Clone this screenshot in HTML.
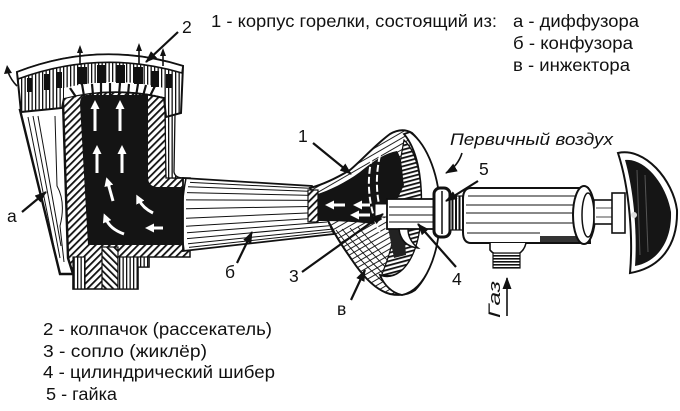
<!DOCTYPE html>
<html><head><meta charset="utf-8"><style>
html,body{margin:0;padding:0;background:#fff;}
svg{display:block;}
text{font-family:"Liberation Sans","DejaVu Sans",sans-serif;fill:#111;}
</style></head><body>
<svg xmlns="http://www.w3.org/2000/svg" width="680" height="411" viewBox="0 0 680 411">
<defs>
<pattern id="h1" width="5" height="5" patternUnits="userSpaceOnUse" patternTransform="rotate(45)"><rect width="5" height="5" fill="#fff"/><rect width="1.8" height="5" fill="#111"/></pattern>
<pattern id="h2" width="5" height="5" patternUnits="userSpaceOnUse" patternTransform="rotate(-45)"><rect width="5" height="5" fill="#fff"/><rect width="1.8" height="5" fill="#111"/></pattern>
<pattern id="vl" width="3.5" height="4" patternUnits="userSpaceOnUse"><rect width="3.5" height="4" fill="#fff"/><rect width="1.3" height="4" fill="#111"/></pattern>
<pattern id="hl" width="4" height="3.5" patternUnits="userSpaceOnUse"><rect width="4" height="3.5" fill="#fff"/><rect width="4" height="1" fill="#111"/></pattern>
<pattern id="dk" width="4" height="4" patternUnits="userSpaceOnUse" patternTransform="rotate(75)"><rect width="4" height="4" fill="#fff"/><rect width="1.8" height="4" fill="#111"/></pattern>
<pattern id="lt" width="5" height="5" patternUnits="userSpaceOnUse" patternTransform="rotate(60)"><rect width="5" height="5" fill="#fff"/><rect width="1" height="5" fill="#222"/></pattern>
<pattern id="th" width="4" height="3" patternUnits="userSpaceOnUse"><rect width="4" height="3" fill="#fff"/><rect width="4" height="1.6" fill="#111"/></pattern>
<pattern id="tv" width="3.5" height="4" patternUnits="userSpaceOnUse"><rect width="3.5" height="4" fill="#fff"/><rect width="2" height="4" fill="#111"/></pattern>
<marker id="ah" markerUnits="userSpaceOnUse" markerWidth="12" markerHeight="9" refX="11" refY="4.5" orient="auto" viewBox="0 0 12 9"><path d="M0,0 L12,4.5 L0,9 Z" fill="#111"/></marker>
<marker id="wa" markerUnits="userSpaceOnUse" markerWidth="9" markerHeight="9" refX="3" refY="4.5" orient="auto" viewBox="0 0 9 9"><path d="M0,0 L9,4.5 L0,9 Z" fill="#fff"/></marker>
</defs>

<!-- texts top -->
<text x="211" y="27" font-size="17.5" textLength="286" lengthAdjust="spacingAndGlyphs">1 - корпус горелки, состоящий из:</text>
<text x="513" y="27" font-size="17.5" textLength="126" lengthAdjust="spacingAndGlyphs">а - диффузора</text>
<text x="513" y="49" font-size="17.5" textLength="120" lengthAdjust="spacingAndGlyphs">б - конфузора</text>
<text x="513" y="71" font-size="17.5" textLength="117" lengthAdjust="spacingAndGlyphs">в - инжектора</text>

<!-- bottom texts -->
<text x="43" y="335" font-size="17.5" textLength="229" lengthAdjust="spacingAndGlyphs">2 - колпачок (рассекатель)</text>
<text x="43" y="357" font-size="17.5" textLength="164" lengthAdjust="spacingAndGlyphs">3 - сопло (жиклёр)</text>
<text x="43" y="378" font-size="17.5" textLength="232" lengthAdjust="spacingAndGlyphs">4 - цилиндрический шибер</text>
<text x="46" y="400" font-size="17.5" textLength="71" lengthAdjust="spacingAndGlyphs">5 - гайка</text>

<!-- BURNER: walls -->
<path d="M60,86 L166,86 L166,172 Q166,178 174,178 L190,178 L190,257 L149,257 L149,267 L138,267 L138,289 L73,289 L73,272 L66,256 Z" fill="url(#h1)" stroke="#111" stroke-width="1.5"/>
<rect x="73" y="257" width="12" height="32" fill="url(#vl)" stroke="#111" stroke-width="1.2"/>
<rect x="102" y="247" width="16" height="42" fill="url(#h2)" stroke="#111" stroke-width="1.2"/>
<rect x="118" y="257" width="20" height="32" fill="url(#vl)" stroke="#111" stroke-width="1.2"/>
<rect x="138" y="257" width="11" height="10" fill="url(#vl)" stroke="#111" stroke-width="1.2"/>
<!-- right neck strip -->
<path d="M165,112 L175,114 L174,172 Q175,178 184,178 L166,178 Z" fill="url(#vl)" stroke="#111" stroke-width="1.3"/>
<!-- black interior -->
<path d="M86,95 Q80,96 80,104 L88,245 L186,245 L186,187 L158,187 Q148,187 148,177 L148,95 Z" fill="#141414"/>
<!-- diffuser white body -->
<path d="M20,110 L63,102 L68,258 L73,274 L60,274 Z" fill="#fff" stroke="#111" stroke-width="2.4"/>
<path d="M28,117 L57,262 M33,116 L60,258 M38,116 L61,246 M55,116 L57,186 Q66,202 60,226 L64,262" fill="none" stroke="#111" stroke-width="1"/>
<!-- head -->
<path d="M17,72 Q100,40 183,66 L181,113 L166,117 L164,98 Q114,86 64,98 L62,108 L21,112 Z" fill="url(#vl)" stroke="#111" stroke-width="2"/>
<path d="M17,72 Q100,40 183,66 L182,73 Q100,49 18,79 Z" fill="#fff" stroke="#111" stroke-width="1.6"/>
<path d="M64,88 Q114,76 164,88 L164,97 Q114,85 64,98 Z" fill="#fff"/>
<g fill="#111">
<rect x="78" y="67" width="9" height="17"/>
<rect x="97" y="65" width="9" height="18"/>
<rect x="116" y="65" width="9" height="18"/>
<rect x="134" y="67" width="9" height="17"/>
<rect x="151" y="71" width="8" height="16"/>
<rect x="44" y="74" width="6" height="16"/>
<rect x="56" y="72" width="6" height="16"/>
<rect x="166" y="74" width="6" height="14"/>
<rect x="27" y="78" width="5" height="14"/>
</g>
<path d="M82,84 L84,96 M101,83 L101,95 M120,83 L119,95 M138,84 L136,96 M155,86 L150,96 M70,88 L76,97 M92,84 L93,95 M110,83 L110,95 M129,84 L128,95 M146,85 L143,96" stroke="#111" stroke-width="2.2"/>
<!-- flame arrows above head -->
<path d="M80,65 L80,52 M139,64 L139,50 M163,66 L163,55" stroke="#111" stroke-width="1.6" fill="none"/>
<path d="M77,53 L80,45 L83,53 Z M136,51 L139,43 L142,51 Z M160,56 L163,48 L166,56 Z" fill="#111"/>
<path d="M17,86 Q11,80 8,72" stroke="#111" stroke-width="1.6" fill="none"/>
<path d="M4,74 L7,65 L12,73 Z" fill="#111"/>
<!-- white arrows burner -->
<g stroke="#fff" stroke-width="3" fill="none" marker-end="url(#wa)">
<line x1="95" y1="131" x2="95" y2="106"/>
<line x1="120" y1="131" x2="120" y2="106"/>
<line x1="97" y1="173" x2="97" y2="151"/>
<line x1="122" y1="173" x2="122" y2="151"/>
<line x1="113" y1="201" x2="108" y2="183"/>
<path d="M153,213 Q143,208 139,200"/>
<path d="M124,234 Q110,229 106,219"/>
<line x1="163" y1="228" x2="151" y2="228"/>
</g>

<!-- PIPE б -->
<path d="M183,178 L312,186 L334,234 L183,251 Z" fill="#fff" stroke="#111" stroke-width="1.8"/>
<path d="M186,178 Q179,214 184,251" fill="none" stroke="#111" stroke-width="1.5"/>
<g stroke="#111" stroke-width="1" fill="none">
<line x1="190" y1="182.4" x2="322" y2="188.9"/>
<line x1="188" y1="186.8" x2="322" y2="191.8"/>
<line x1="187" y1="192.6" x2="322" y2="195.6"/>
<line x1="186" y1="199.9" x2="322" y2="200.4"/>
<line x1="186" y1="208.7" x2="322" y2="206.2"/>
<line x1="186" y1="218.2" x2="322" y2="212.4"/>
<line x1="186" y1="226.2" x2="325" y2="217.7"/>
<line x1="187" y1="232.8" x2="327" y2="222"/>
<line x1="187" y1="238.6" x2="329" y2="225.8"/>
<line x1="188" y1="243.7" x2="331" y2="229.2"/>
<line x1="189" y1="247.4" x2="332" y2="231.6"/>
</g>

<!-- CONE -->
<path d="M310,188 C325,184 340,176 350,170 C360,162 375,145 390,134 Q402,127 412,133 C425,145 438,175 439,205 C440,245 430,275 415,290 Q405,297 390,294 C375,290 362,275 352,260 C345,250 338,240 333,230 Z" fill="url(#lt)" stroke="#111" stroke-width="2"/>
<g stroke="#111" stroke-width="0.9" fill="none">
<path d="M336,230 Q360,262 392,290"/>
<path d="M342,229 Q366,258 396,286"/>
<path d="M350,228 Q372,254 398,280"/>
<path d="M358,227 Q378,250 398,272"/>
</g>
<!-- ring -->
<path d="M410,132 C428,145 440,178 440,212 C440,255 425,290 402,295 C392,293 384,285 380,275 C398,282 418,262 421,215 C423,175 416,148 404,134 Z" fill="#fff" stroke="#111" stroke-width="1.8"/>
<path d="M404,140 C417,152 423,180 421,215 C419,258 400,282 382,274 C392,250 396,230 396,210 C397,180 400,160 404,140 Z" fill="url(#dk)" stroke="#111" stroke-width="1.2"/>
<!-- cone black interior -->
<path d="M315,195 C330,190 345,183 360,172 C370,164 382,154 397,151 C403,160 402,175 404,185 L398,198 L388,200 L388,213 L380,220 L372,224 C360,222 340,221 316,221 Z" fill="#141414"/>
<path d="M388,228 L404,229 L406,255 L394,258 Z" fill="#222"/>
<rect x="308" y="190" width="10" height="32" fill="url(#h1)" stroke="#111" stroke-width="1.2"/>
<path d="M372,157 Q363,195 380,233 M380,155 Q371,195 388,232" fill="none" stroke="#fff" stroke-width="2" stroke-dasharray="7 3"/>
<g stroke="#fff" stroke-width="3" fill="none" marker-end="url(#wa)">
<line x1="345" y1="205" x2="331" y2="205"/>
<line x1="370" y1="205" x2="359" y2="205"/>
<line x1="370" y1="215" x2="356" y2="215"/>
</g>
<!-- rod -->
<rect x="375" y="204" width="14" height="13" fill="#fff" stroke="#111" stroke-width="1"/>
<rect x="387" y="199" width="50" height="30" fill="#fff" stroke="#111" stroke-width="1.8"/>
<path d="M389,207 L435,207 M389,215 L435,215 M389,222 L435,222" stroke="#111" stroke-width="0.9"/>
<path d="M399,229 Q401,246 418,248 Q408,240 408,229 Z" fill="#fff" stroke="#111" stroke-width="1.5"/>
<!-- nut -->
<rect x="434" y="188" width="16" height="49" rx="6" fill="#fff" stroke="#111" stroke-width="3"/>
<line x1="442" y1="191" x2="442" y2="234" stroke="#111" stroke-width="1.5"/>
<!-- threads -->
<rect x="450" y="196" width="14" height="34" fill="url(#tv)" stroke="#111" stroke-width="1.2"/>
<!-- body -->
<path d="M471,188 L588,188 L590,243 L471,243 Q463,243 463,232 L463,199 Q463,188 471,188 Z" fill="#fff" stroke="#111" stroke-width="2"/>
<path d="M468,196 L586,196 M466,205 L586,205 M466,213 L586,213 M466,223 L586,223 M467,233 L540,233" stroke="#111" stroke-width="0.9"/>
<path d="M540,236 L588,236 L588,242 L540,242 Z" fill="#333"/>
<path d="M490,243 L490,250 Q494,255 500,255 L516,255 Q524,252 526,243" fill="#fff" stroke="#111" stroke-width="1.6"/>
<rect x="493" y="253" width="27" height="15" fill="url(#th)" stroke="#111" stroke-width="1.2"/>
<!-- flange -->
<ellipse cx="584" cy="215" rx="11" ry="29" fill="#fff" stroke="#111" stroke-width="2"/>
<ellipse cx="588" cy="215" rx="6" ry="22" fill="#fff" stroke="#111" stroke-width="1.5"/>
<!-- stem -->
<rect x="594" y="200" width="20" height="24" fill="#fff" stroke="#111" stroke-width="1.6"/>
<path d="M596,208 L612,208 M596,217 L612,217" stroke="#111" stroke-width="0.8"/>
<rect x="612" y="193" width="13" height="40" fill="#fff" stroke="#111" stroke-width="1.6"/>
<!-- knob -->
<path d="M618,153 C645,147 673,180 677,210 C678,246 660,268 630,273 C633,240 630,190 618,153 Z" fill="#fff" stroke="#111" stroke-width="2"/>
<path d="M625,160 C646,158 667,186 671,212 C672,242 657,262 635,266 C637,238 635,195 625,160 Z" fill="#151515"/>
<path d="M637,170 L640,255 M645,175 L648,252" stroke="#555" stroke-width="1"/>
<circle cx="634" cy="215" r="3" fill="#ddd"/>

<!-- labels -->
<text x="182" y="33" font-size="17.5">2</text>
<text x="7" y="222" font-size="17.5">а</text>
<text x="225" y="278" font-size="17.5">б</text>
<text x="298" y="142" font-size="17.5">1</text>
<text x="289" y="282" font-size="17.5">3</text>
<text x="452" y="285" font-size="17.5">4</text>
<text x="479" y="175" font-size="17.5">5</text>
<text x="337" y="315" font-size="17.5">в</text>

<text x="450" y="145" font-size="17" font-style="italic" textLength="163" lengthAdjust="spacingAndGlyphs">Первичный воздух</text>
<text transform="translate(500,318) rotate(-90)" font-size="17" font-style="italic" textLength="37" lengthAdjust="spacingAndGlyphs">Газ</text>

<!-- leaders -->
<g stroke="#111" stroke-width="2.2" fill="none" marker-end="url(#ah)">
<line x1="178" y1="32" x2="146" y2="62"/>
<line x1="22" y1="212" x2="46" y2="192"/>
<line x1="237" y1="263" x2="252" y2="232"/>
<line x1="313" y1="143" x2="351" y2="174"/>
<line x1="302" y1="272" x2="383" y2="214"/>
<line x1="456" y1="267" x2="418" y2="224"/>
<line x1="478" y1="181" x2="446" y2="201"/>
<line x1="351" y1="300" x2="365" y2="270"/>
<path d="M462,153 Q458,166 446,173" stroke-width="1.6"/>
<line x1="507" y1="316" x2="507" y2="278" stroke-width="1.6"/>
</g>
</svg>
</body></html>
